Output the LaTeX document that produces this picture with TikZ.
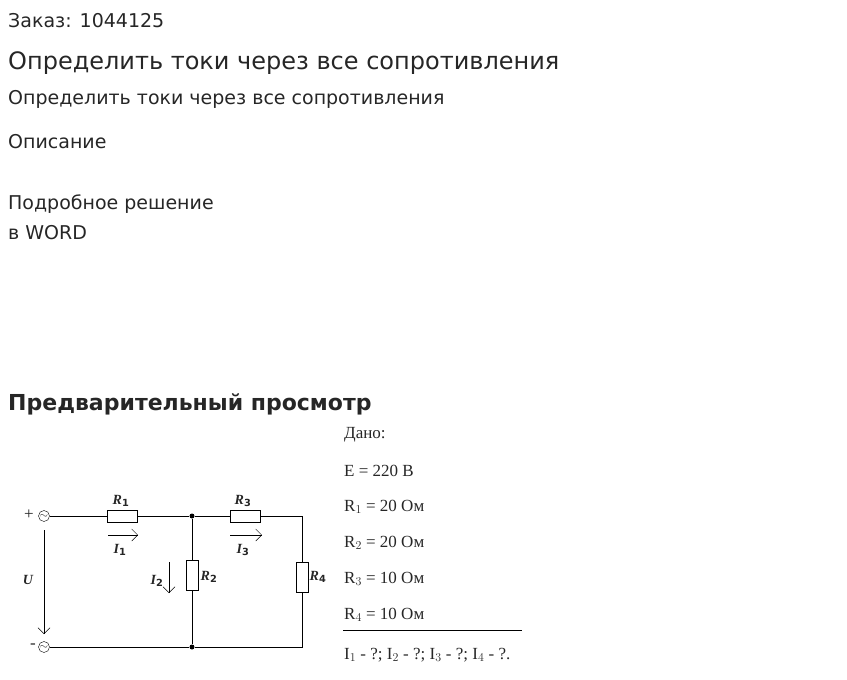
\documentclass[tikz,border=0pt]{standalone}
\usepackage{fontspec}
\setmainfont{DejaVu Sans}
\newfontfamily\timesf{Liberation Serif}
\usetikzlibrary{arrows.meta, positioning}

\begin{document}
\begin{tikzpicture}[x=1pt, y=-1pt,
  every node/.style={inner sep=0pt, anchor=west, text=black!85},
  res/.style={draw, thick, fill=white, minimum width=30pt, minimum height=12pt, anchor=center},
  vres/.style={res, minimum width=12pt, minimum height=30pt},
  term/.style={draw, circle, minimum size=11pt, anchor=center, font=\timesf\fontsize{11}{11}\selectfont},
  dot/.style={circle, fill=black, minimum size=5pt, anchor=center},
  lbl/.style={font=\timesf\itshape\bfseries\fontsize{14}{14}\selectfont, anchor=center},
  cur/.style={-{Straight Barb[length=6pt]}, thin},
  given/.style={font=\timesf\fontsize{17}{17}\selectfont}]
\useasboundingbox (0,0) rectangle (847,680);
% header texts
\node[font=\fontsize{19}{19}\selectfont] at (8,21) {Заказ: 1044125};
\node[font=\fontsize{24}{24}\selectfont] at (8,63) {Определить токи через все сопротивления};
\node[font=\fontsize{19}{19}\selectfont] at (8,99) {Определить токи через все сопротивления};
\node[font=\fontsize{19}{19}\selectfont] at (8,142) {Описание};
\node[font=\fontsize{19}{19}\selectfont] at (8,204) {Подробное решение};
\node[font=\fontsize{19}{19}\selectfont] at (8,233) {в WORD};
\node[font=\bfseries\fontsize{22}{22}\selectfont] at (8,404) {Предварительный просмотр};
% circuit
\node[term] (tp) at (44,516) {$\sim$};
\node[term] (tm) at (44,647) {$\sim$};
\node[res] (r1) at (122,516) {};
\node[res] (r3) at (245,516) {};
\node[vres] (r2) at (192,575) {};
\node[vres] (r4) at (302,577) {};
\node[dot] (jt) at (192,516) {};
\node[dot] (jb) at (192,647) {};
\coordinate (ct) at (302,516);
\coordinate (cb) at (302,647);
\draw (tp) -- (r1) -- (jt) -- (r3) -- (ct) -- (r4) -- (cb) -- (jb) -- (tm);
\draw (jt) -- (r2) -- (jb);
% arrows
\coordinate (ua) at (44,530);
\coordinate (ub) at (44,634);
\draw[cur] (ua) -- (ub);
\coordinate (i1a) at (108,535);
\coordinate (i1b) at (138,535);
\draw[cur] (i1a) -- (i1b);
\coordinate (i3a) at (230,535);
\coordinate (i3b) at (262,535);
\draw[cur] (i3a) -- (i3b);
\coordinate (i2a) at (169,562);
\coordinate (i2b) at (169,593);
\draw[cur] (i2a) -- (i2b);
% labels
\node[lbl, font=\timesf\fontsize{17}{17}\selectfont] at (29,515) {+};
\node[lbl, font=\timesf\fontsize{17}{17}\selectfont] at (33,646) {-};
\node[lbl] at (28,580) {U};
\node[lbl] at (121,501) {R$_{\mathbf 1}$};
\node[lbl] at (243,501) {R$_{\mathbf 3}$};
\node[lbl] at (120,550) {I$_{\mathbf 1}$};
\node[lbl] at (243,550) {I$_{\mathbf 3}$};
\node[lbl] at (157,581) {I$_{\mathbf 2}$};
\node[lbl] at (209,577) {R$_{\mathbf 2}$};
\node[lbl] at (318,577) {R$_{\mathbf 4}$};
% given data
\node[given] at (344,435) {Дано:};
\node[given] at (344,471) {E = 220 В};
\node[given] at (344,507) {R$_1$ = 20 Ом};
\node[given] at (344,543) {R$_2$ = 20 Ом};
\node[given] at (344,579) {R$_3$ = 10 Ом};
\node[given] at (344,615) {R$_4$ = 10 Ом};
\coordinate (la) at (343,630);
\coordinate (lb) at (522,630);
\draw[thick] (la) -- (lb);
\node[given] at (344,655) {I$_1$ - ?; I$_2$ - ?; I$_3$ - ?; I$_4$ - ?.};
\end{tikzpicture}
\end{document}
